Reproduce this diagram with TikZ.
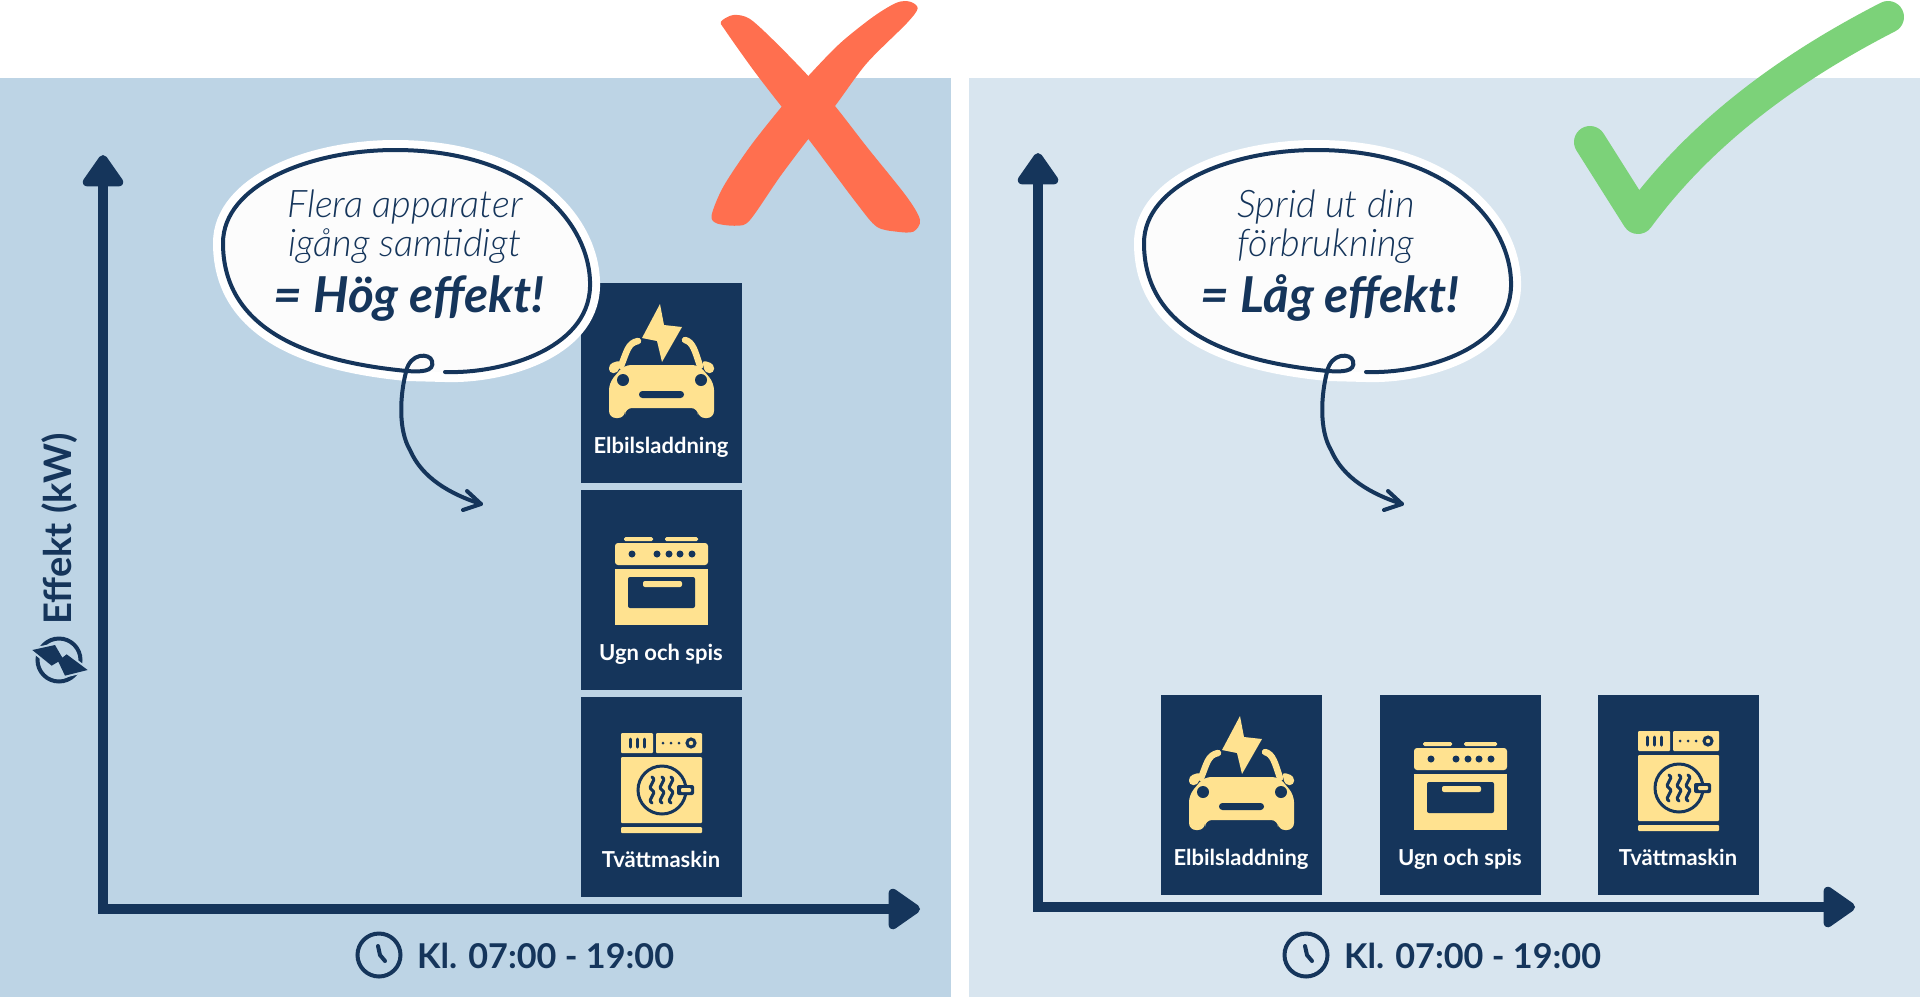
\documentclass[tikz,border=0pt]{standalone}
\usepackage{fontspec}
\setmainfont{Lato}
\newfontfamily\lightfont{Lato Light Italic}
\usetikzlibrary{arrows.meta}
\definecolor{navy}{HTML}{15355B}
\definecolor{butter}{HTML}{FFE290}
\definecolor{panelA}{HTML}{BDD4E5}
\definecolor{panelB}{HTML}{D8E5EF}
\definecolor{crossred}{HTML}{FF6F4F}
\definecolor{checkgreen}{HTML}{7CD279}
\definecolor{bubblefill}{HTML}{FCFCFC}
\tikzset{
  devbox/.style={fill=navy,anchor=north west,minimum width=161pt,minimum height=200pt,inner sep=0pt},
  devlabel/.style={text=white,anchor=base,font=\fontsize{22}{22}\selectfont\bfseries,inner sep=0pt},
  axisline/.style={draw=navy,line width=10pt,{Triangle[length=35pt,width=46pt,round]}-{Triangle[length=35pt,width=46pt,round]}},
  axislabel/.style={text=navy,anchor=base west,font=\fontsize{34.2}{36}\selectfont\bfseries,inner sep=0pt},
  saytext/.style={text=navy,anchor=base,font=\fontsize{38}{38}\selectfont\lightfont,inner sep=0pt},
  saybold/.style={text=navy,anchor=base,font=\fontsize{49.5}{50}\selectfont\bfseries\itshape,inner sep=0pt},
  pics/caricon/.style={code={
    \fill[butter](61,55)--(79,21)--(83,42)--(101,44)--(81,79)--(76,58)--cycle;
    \draw[butter,line width=6.5pt,line cap=round](40,83)..controls(46,68)and(47,60)..(57,58);
    \draw[butter,line width=6.5pt,line cap=round](104,57)..controls(112,59)and(114,68)..(119,83);
    \fill[butter,rounded corners=4pt](28,81)--(40,77)--(37,90)--(28,90)--cycle;
    \fill[butter,rounded corners=4pt](133,81)--(121,77)--(124,90)--(133,90)--cycle;
    \fill[butter,rounded corners=7pt](43,82)--(118,82)--(133,100)--(133,135)--(117,135)--(117,125)--(44,125)--(44,135)--(28,135)--(28,100)--cycle;
    \fill[navy](42,97)circle(6pt)(120,97)circle(6pt);
    \fill[navy,rounded corners=3.4pt](58,108)rectangle(103,115);
  }},
  pics/ovenicon/.style={code={
    \fill[butter,rounded corners=1.5pt](43,47)rectangle(72,51)(84,47)rectangle(117,51);
    \fill[butter,rounded corners=3pt](34,75)--(34,53)--(127,53)--(127,75)--cycle;
    \fill[butter](34,79)--(127,79)--(127,135)--(34,135)--cycle;
    \foreach \kx in {51,76,88,99,111}{\fill[navy](\kx,64)circle(3.5pt);}
    \fill[navy,rounded corners=2pt](47,87)rectangle(114,118);
    \fill[butter,rounded corners=2pt](62,91)rectangle(101,97);
  }},
  pics/washicon/.style={code={
    \fill[butter,rounded corners=1pt](40,36)rectangle(72,56)(75,36)rectangle(121,56)(40,60)rectangle(121,126)(40,130)rectangle(121,136);
    \foreach \bx in {49,56,63}{\draw[navy,line width=3pt,line cap=round](\bx,42)--(\bx,50);}
    \foreach \dx in {82,90,98}{\fill[navy](\dx,46)circle(1.5pt);}
    \draw[navy,line width=3pt](110,46)circle(4pt);
    \draw[navy,line width=3pt](81,93)circle(24pt);
    \foreach \wx in {71,81,90}{\draw[navy,line width=3pt,line cap=round](\wx,80)..controls(\wx+6,84)and(\wx-6,89)..(\wx,93)..controls(\wx+6,97)and(\wx-6,102)..(\wx,106);}
    \fill[navy,rounded corners=2pt](96,88)rectangle(113,98);
    \fill[butter,rounded corners=1pt](100,91)rectangle(110,95);
  }},
  pics/clockicon/.style={code={
    \draw[navy,line width=4pt](0,0)circle(21.5pt);
    \draw[navy,line width=4pt,line cap=round](-1,-9)--(1,0)--(6,6);
  }}
}
\newcommand\saybubble{
  \path[fill=bubblefill,draw=white,line width=20pt,line join=round] (445,372)..controls(500,374)and(588,350)..(590,287)..controls(592,225)and(530,150)..(395,150)..controls(310,150)and(223,185)..(223,243)..controls(223,320)and(290,360)..(407,371)--cycle;
  \fill[bubblefill] (445,372)..controls(500,374)and(588,350)..(590,287)..controls(592,225)and(530,150)..(395,150)..controls(310,150)and(223,185)..(223,243)..controls(223,320)and(290,360)..(407,371)--cycle;
  \draw[navy,line width=4pt,line cap=round] (445,372)..controls(500,374)and(588,350)..(590,287)..controls(592,225)and(530,150)..(395,150)..controls(310,150)and(223,185)..(223,243)..controls(223,320)and(290,360)..(407,371)..controls(420,372)and(435,372)..(432,361)..controls(430,353)and(410,352)..(406,372)..controls(400,395)and(398,430)..(410,450)..controls(422,478)and(450,494)..(481,504);
  \draw[navy,line width=4pt,line cap=round,line join=round](467,491)--(481,504)--(463,510);
}
\begin{document}
\begin{tikzpicture}[x=1pt,y=-1pt]
\useasboundingbox (0,0) rectangle (1920,997);
\fill[panelA](0,78)rectangle(951,997);
\fill[panelB](969,78)rectangle(1920,997);
% left panel
\coordinate (ytopA) at (103,155);
\coordinate (xendA) at (920,909);
\node[devbox] (carA) at (581,283) {};
\node[devbox] (ovenA) at (581,490) {};
\node[devbox] (washA) at (581,697) {};
\pic at (carA.north west) {caricon};
\pic at (ovenA.north west) {ovenicon};
\pic at (washA.north west) {washicon};
\node[devlabel] (carlabelA) at (661,453) {Elbilsladdning};
\node[devlabel] (ovenlabelA) at (661,660) {Ugn och spis};
\node[devlabel] (washlabelA) at (661,867) {Tvättmaskin};
\draw[axisline] (ytopA) |- (xendA);
\saybubble
\node[saytext] (sayA1) at (405,217.5) {Flera apparater};
\node[saytext] (sayA2) at (405,256.5) {igång samtidigt};
\node[saybold] (sayA3) at (409,312) {= Hög effekt!};
\pic at (379,955) {clockicon};
\node[axislabel] (timeA) at (417,968) {Kl. 07:00 - 19:00};
\node[text=navy,rotate=90,anchor=base,font=\fontsize{38}{38}\selectfont\bfseries,inner sep=0pt] (power) at (71,529) {Effekt (kW)};
\draw[navy,line width=4pt](59,660)circle(21.5pt);
\begin{scope}[shift={(25,625)},scale=1/3]
\fill[navy,preaction={draw=panelA,line width=4pt}](22,75)--(90,60)--(112,98)--(125,88)--(188,135)--(120,152)--(100,110)--(80,122)--cycle;
\end{scope}
\begin{scope}[shift={(700,0)},scale=1/3]
\fill[crossred] plot[smooth cycle,tension=.5] coordinates{(63,65)(100,45)(150,57)(230,130)(325,228)(405,318)(500,440)(620,590)(660,660)(640,695)(590,695)(530,680)(470,610)(325,417)(245,320)(160,210)(75,90)};
\fill[crossred] plot[smooth cycle,tension=.5] coordinates{(653,25)(630,5)(590,8)(520,50)(420,130)(325,228)(245,320)(150,440)(70,560)(35,645)(50,670)(110,677)(150,660)(240,530)(325,417)(405,318)(500,190)(620,70)};
\end{scope}
% right panel
\coordinate (ytopB) at (1038,153);
\coordinate (xendB) at (1855,907);
\node[devbox] (carB) at (1161,695) {};
\node[devbox] (ovenB) at (1380,695) {};
\node[devbox] (washB) at (1598,695) {};
\pic at (carB.north west) {caricon};
\pic at (ovenB.north west) {ovenicon};
\pic at (washB.north west) {washicon};
\node[devlabel] (carlabelB) at (1241,865) {Elbilsladdning};
\node[devlabel] (ovenlabelB) at (1460,865) {Ugn och spis};
\node[devlabel] (washlabelB) at (1678,865) {Tvättmaskin};
\draw[axisline] (ytopB) |- (xendB);
\begin{scope}[xshift=921pt]
\saybubble
\node[saytext] (sayB1) at (405,217.5) {Sprid ut din};
\node[saytext] (sayB2) at (405,256.5) {förbrukning};
\node[saybold] (sayB3) at (409,312) {= Låg effekt!};
\end{scope}
\pic at (1306,955) {clockicon};
\node[axislabel] (timeB) at (1344,968) {Kl. 07:00 - 19:00};
\draw[checkgreen,line width=32pt,line cap=round,line join=round] (1590,142)--(1638,218)..controls(1710,120)and(1810,57)..(1888,17);
\end{tikzpicture}
\end{document}
